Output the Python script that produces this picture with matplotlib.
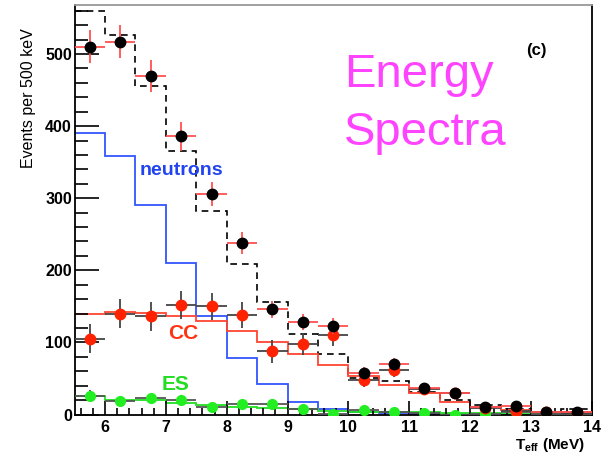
import numpy as np
import matplotlib.pyplot as plt
from matplotlib.ticker import MultipleLocator

plt.rcParams['font.family'] = ['Liberation Sans', 'DejaVu Sans']
plt.rcParams['mathtext.fontset'] = 'custom'
plt.rcParams['mathtext.rm'] = 'Liberation Sans'
plt.rcParams['mathtext.bf'] = 'Liberation Sans:bold'

# bin edges, 500 keV wide
edges = np.arange(5.5, 14.01, 0.5)
centers = edges[:-1] + 0.25

# data points
data_total = [510, 517, 470, 386, 306, 238, 146, 128, 123, 58, 70, 37, 30, 10, 12, 3, 3]
err_total = [23, 23, 22, 20, 17, 15, 12, 11, 11, 8, 8, 6, 5, 3, 3, 2, 2]
data_cc = [105, 140, 136, 152, 150, 138, 88, 98, 110, 48, 62, 35, 30, 9, 5, 3, 2]
err_cc = [20, 20, 20, 20, 19, 18, 16, 15, 15, 10, 10, 8, 7, 5, 4, 3, 3]
data_es = [26, 19, 23, 20, 10, 15, 15, 8, 1, 6, 3, 2, 0, 1, 3, 1, 1]
err_es = [8, 7, 7, 7, 6, 6, 6, 5, 5, 4, 4, 3, 3, 3, 3, 2, 2]

# fitted histograms
mc_total = [559, 527, 455, 366, 282, 209, 156, 112, 84, 50, 46, 31, 20, 13, 7, 4, 7]
mc_neutrons = [391, 359, 290, 210, 137, 79, 42, 17, 7, 3, 2, 1, 1, 0, 0, 0, 0]
mc_cc = [140, 142, 141, 136, 130, 116, 100, 84, 68, 54, 41, 30, 17, 10, 6, 3, 4]
mc_es = [26, 20, 20, 16, 13, 11, 9, 7, 5, 4, 3, 3, 2, 2, 1, 1, 1]

fig = plt.figure(figsize=(6.02, 4.55), dpi=100)
ax = fig.add_axes([0.124, 0.089, 0.859, 0.9])

ax.stairs(mc_total, edges, baseline=None, color='black', ls=(0, (4, 3)), lw=1.2)
ax.stairs(mc_neutrons, edges, baseline=None, color='#3355ff', lw=1.3)
ax.stairs(mc_cc, edges, baseline=None, color='#ff4433', lw=1.3)
ax.stairs(mc_es, edges, baseline=None, color='#22dd22', lw=1.3)

ax.errorbar(centers, data_es, yerr=err_es, xerr=0.25, fmt='o', color='#22ee22',
            ms=7, ecolor='#555555', elinewidth=1.3, capsize=0, zorder=4)
ax.errorbar(centers, data_cc, yerr=err_cc, xerr=0.25, fmt='o', color='#ff2200',
            ms=7.5, ecolor='#444444', elinewidth=1.3, capsize=0, zorder=5)
ax.errorbar(centers, data_total, yerr=err_total, xerr=0.25, fmt='o', color='black',
            ms=7.5, ecolor='#ff5050', elinewidth=1.3, capsize=0, zorder=6)

ax.text(6.57, 339, 'neutrons', color='#2244ee', fontsize=14, fontweight='bold', va='center')
ax.text(7.03, 112, 'CC', color='#ff3311', fontsize=15, fontweight='bold', va='center')
ax.text(6.93, 42, 'ES', color='#22dd22', fontsize=15, fontweight='bold', va='center')
ax.text(9.93, 471, 'Energy', color='#ff44ff', fontsize=34, va='center')
ax.text(9.93, 390, 'Spectra', color='#ff44ff', fontsize=34, va='center')
ax.text(12.92, 505, '(c)', color='black', fontsize=12, fontweight='bold', va='center')

ax.set_xlim(5.5, 14)
ax.set_ylim(0, 568)
ax.xaxis.set_major_locator(MultipleLocator(1))
ax.xaxis.set_minor_locator(MultipleLocator(0.2))
ax.yaxis.set_major_locator(MultipleLocator(100))
ax.yaxis.set_minor_locator(MultipleLocator(20))
ax.tick_params(which='both', direction='in', top=False, right=False, width=1.2)
ax.tick_params(which='major', axis='y', length=17)
ax.tick_params(which='minor', axis='y', length=9)
ax.tick_params(which='major', axis='x', length=10)
ax.tick_params(which='minor', axis='x', length=5)
for lab in ax.get_xticklabels() + ax.get_yticklabels():
    lab.set_fontweight('bold')
    lab.set_fontsize(11.5)
ax.tick_params(axis='x', pad=4)
ax.tick_params(axis='y', pad=2)

ax.spines['top'].set_color('#999999')
for s in ['left', 'bottom', 'right', 'top']:
    ax.spines[s].set_linewidth(1.3)

# axis titles placed ROOT style
ax.text(-0.09, 0.944, 'Events per 500 keV', transform=ax.transAxes, rotation=90,
        fontsize=11.5, ha='center', va='top')
ax.text(0.9865, -0.084, r'T$_{\mathbf{eff}}$ (MeV)', transform=ax.transAxes,
        fontsize=11, fontweight='bold', ha='right', va='baseline')

fig.savefig('out.png', dpi=100)
